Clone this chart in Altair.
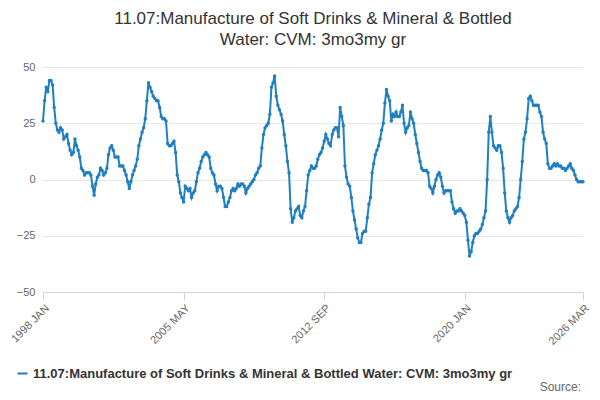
import altair as alt
import pandas as pd

values = [
26, 35, 41, 39, 44, 44, 42, 32, 25, 22, 21, 23,
22, 18, 19, 20, 16, 13, 11, 12, 18, 15, 13, 10,
5, 4, 2, 3, 3, 3, 2, -3, -7, -2, 1, 2,
5, 4, 2, 3, 5, 11, 14, 15, 13, 10, 10, 10,
6, 6, 6, 4, 2, -1, -4, -1, 2, 4, 6, 9,
15, 18, 21, 23, 27, 35, 43, 41, 39, 37, 36, 35,
35, 32, 28, 27, 27, 26, 16, 15, 15, 16, 17, 12,
2, -1, -6, -8, -10, -3, -4, -5, -4, -8, -6, -5,
-1, 3, 5, 8, 10, 11, 12, 11, 10, 5, 3, 2,
-2, -5, -3, -3, -4, -8, -12, -12, -10, -8, -5, -4,
-5, -4, -2, -3, -2, -2, -3, -6, -4, -3, -2, -1,
0, 2, 3, 5, 6, 14, 20, 23, 24, 25, 29, 41,
43, 46, 37, 33, 31, 29, 26, 20, 15, 8, 3, -13,
-19, -17, -14, -13, -12, -16, -17, -14, -12, -5, 2, 4,
6, 5, 5, 6, 9, 11, 12, 14, 17, 20, 18, 16,
15, 20, 22, 23, 23, 19, 32, 28, 24, 6, 1, -2,
-3, -8, -14, -18, -22, -26, -28, -28, -24, -23, -23, -17,
-11, -8, 3, 7, 11, 13, 15, 18, 22, 25, 34, 40,
37, 35, 26, 29, 28, 30, 28, 28, 30, 33, 25, 21,
23, 24, 30, 27, 25, 20, 16, 12, 8, 5, 4, 4,
4, 3, -3, -4, -6, -3, 0, 2, 3, 1, -3, -6,
-5, -5, -5, -5, -10, -13, -15, -14, -14, -13, -14, -15,
-16, -19, -27, -34, -32, -28, -25, -24, -24, -23, -22, -20,
-17, -14, 0, 21, 28, 21, 15, 14, 13, 15, 15, 12,
5, -6, -14, -17, -19, -17, -16, -14, -13, -12, -8, 0,
8, 18, 21, 27, 36, 37, 35, 33, 33, 33, 33, 30,
28, 21, 18, 16, 7, 5, 5, 6, 7, 6, 7, 6,
6, 5, 5, 4, 5, 6, 7, 5, 4, 2, 0, -1,
-1, -1, -1,
]
months = ["JAN", "FEB", "MAR", "APR", "MAY", "JUN", "JUL", "AUG", "SEP", "OCT", "NOV", "DEC"]
labels = [f"{1998 + i // 12} {months[i % 12]}" for i in range(len(values))]
tick_idx = [0, 88, 176, 264, 338]
series = "11.07:Manufacture of Soft Drinks & Mineral & Bottled Water: CVM: 3mo3my gr"

df = pd.DataFrame({"i": range(len(values)), "v": values, "label": labels, "s": series})
expr = "{" + ",".join(f"'{i}':'{labels[i]}'" for i in tick_idx) + "}[datum.value]"

color = "#1f7fc0"
base = alt.Chart(df).encode(
    x=alt.X("i:Q", scale=alt.Scale(domain=[0, 338], nice=False),
            axis=alt.Axis(values=tick_idx, labelExpr=expr, title=None, labelAngle=315,
                          labelAlign="right", labelColor="#666", labelFontSize=11,
                          grid=False, domainColor="#ccd6eb", tickColor="#ccd6eb", tickSize=8)),
    y=alt.Y("v:Q", scale=alt.Scale(domain=[-50, 50], nice=False),
            axis=alt.Axis(values=[-50, -25, 0, 25, 50], title=None, domain=False, ticks=False,
                          labelColor="#666", labelFontSize=11, gridColor="#e6e6e6", labelPadding=8)),
    color=alt.Color("s:N", scale=alt.Scale(range=[color]),
                    legend=alt.Legend(title=None, orient="none", legendX=-27, legendY=300,
                                      labelFontSize=13, labelFontWeight="bold", labelColor="#333",
                                      symbolType="stroke", symbolStrokeWidth=2, labelLimit=600)),
)
line = base.mark_line(strokeWidth=2)
pts = base.mark_point(filled=True, size=12, opacity=1)
src = alt.Chart(pd.DataFrame({"t": ["Source:"]})).mark_text(
    align="right", baseline="middle", fontSize=12, color="#666").encode(
    text="t:N", x=alt.value(538), y=alt.value(320))

chart = (line + pts + src).properties(
    width=540, height=225, autosize="none",
    padding={"left": 35, "top": 59, "right": 9, "bottom": 100},
    title=alt.Title(["11.07:Manufacture of Soft Drinks & Mineral & Bottled", "Water: CVM: 3mo3my gr"],
                    fontSize=17, fontWeight="normal", color="#333", offset=12, lineHeight=21,
                    anchor="middle"),
).configure_view(stroke=None)

chart.save("out.html", embed_options={"renderer": "svg", "actions": False})
